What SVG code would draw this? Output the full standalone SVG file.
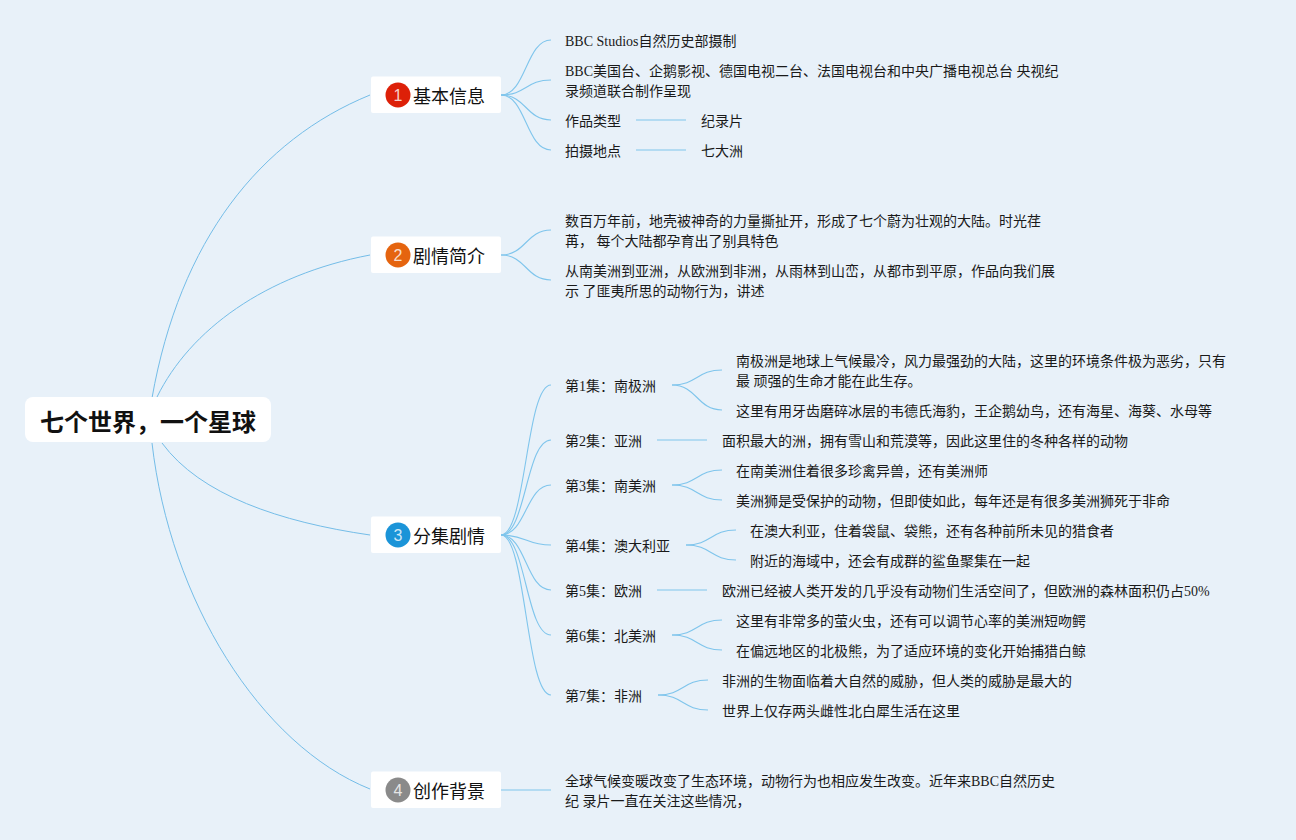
<svg xmlns="http://www.w3.org/2000/svg" width="1296" height="840" viewBox="0 0 1296 840">
<style>
text{font-family:"Liberation Serif","Noto Sans CJK SC",serif;font-size:14px;fill:#1a1a1a}
.c path{fill:none;stroke:#7fc5ec;stroke-width:1.1}
.c .m{stroke:#74bde8;stroke-width:1}
.n{fill:#fff}
.t{font-family:"Liberation Sans","Noto Sans CJK SC",sans-serif;font-size:18px;fill:#111}
.b{font-family:"Liberation Sans","Noto Sans CJK SC",sans-serif;font-size:16px;fill:#fff;fill-opacity:.8;text-anchor:middle}
.r{font-family:"Liberation Sans","Noto Sans CJK SC",sans-serif;font-size:24px;font-weight:bold;fill:#111}
</style>
<rect width="1296" height="840" fill="#e8f1f9"/>
<g id="connectors" class="c">
<path class="m" d="M152 398C180 240 260 140 370 95"/>
<path class="m" d="M157 397C190 330 265 275 370 255"/>
<path class="m" d="M162 443C200 495 280 522 370 535"/>
<path class="m" d="M152 443C170 600 260 745 370 789"/>
<path d="M501 95C526 95 526 40 551 40"/>
<path d="M501 95C526 95 526 80 551 80"/>
<path d="M501 95C526 95 526 120 551 120"/>
<path d="M501 95C526 95 526 150 551 150"/>
<path d="M636 120H686M636 150H686"/>
<path d="M501 255C526 255 526 230 551 230"/>
<path d="M501 255C526 255 526 280 551 280"/>
<path d="M501 535C526 535 526 385 551 385"/>
<path d="M501 535C526 535 526 440 551 440"/>
<path d="M501 535C526 535 526 485 551 485"/>
<path d="M501 535C526 535 526 545 551 545"/>
<path d="M501 535C526 535 526 590 551 590"/>
<path d="M501 535C526 535 526 635 551 635"/>
<path d="M501 535C526 535 526 695 551 695"/>
<path d="M501 790H551"/>
<path d="M672 385C697 385 697 370 722 370"/>
<path d="M672 385C697 385 697 410 722 410"/>
<path d="M657 440H707"/>
<path d="M672 485C697 485 697 470 722 470"/>
<path d="M672 485C697 485 697 500 722 500"/>
<path d="M686 545C711 545 711 530 736 530"/>
<path d="M686 545C711 545 711 560 736 560"/>
<path d="M657 590H707"/>
<path d="M672 635C697 635 697 620 722 620"/>
<path d="M672 635C697 635 697 650 722 650"/>
<path d="M658 695C683 695 683 680 708 680"/>
<path d="M658 695C683 695 683 710 708 710"/>
</g>
<g id="root"><rect class="n" x="25" y="397" width="246" height="45" rx="8"/><text class="r" x="40" y="431">七个世界，一个星球</text></g>
<g id="n1"><rect class="n" x="371" y="76.500" width="130" height="36.500" rx="2"/><circle cx="398" cy="95" r="12.500" fill="#dd2008"/><text class="b" x="398" y="101">1</text><text class="t" x="413" y="103">基本信息</text></g>
<g id="n2"><rect class="n" x="371" y="236.500" width="130" height="36.500" rx="2"/><circle cx="398" cy="255" r="12.500" fill="#e5640f"/><text class="b" x="398" y="261">2</text><text class="t" x="413" y="263">剧情简介</text></g>
<g id="n3"><rect class="n" x="371" y="516.500" width="130" height="36.500" rx="2"/><circle cx="398" cy="535" r="12.500" fill="#1b94d8"/><text class="b" x="398" y="541">3</text><text class="t" x="413" y="543">分集剧情</text></g>
<g id="n4"><rect class="n" x="371" y="771.500" width="130" height="36.500" rx="2"/><circle cx="398" cy="790" r="12.500" fill="#8a8a8a"/><text class="b" x="398" y="796">4</text><text class="t" x="413" y="798">创作背景</text></g>
<g id="leaves">
<text x="565" y="46">BBC Studios自然历史部摄制</text>
<text x="565" y="76">BBC美国台、企鹅影视、德国电视二台、法国电视台和中央广播电视总台 央视纪</text>
<text x="565" y="96">录频道联合制作呈现</text>
<text x="565" y="126">作品类型</text><text x="701" y="126">纪录片</text>
<text x="565" y="156">拍摄地点</text><text x="701" y="156">七大洲</text>
<text x="565" y="226">数百万年前，地壳被神奇的力量撕扯开，形成了七个蔚为壮观的大陆。时光荏</text>
<text x="565" y="246">苒， 每个大陆都孕育出了别具特色</text>
<text x="565" y="276">从南美洲到亚洲，从欧洲到非洲，从雨林到山峦，从都市到平原，作品向我们展</text>
<text x="565" y="296">示 了匪夷所思的动物行为，讲述</text>
<text x="565" y="391">第1集：南极洲</text>
<text x="736" y="366">南极洲是地球上气候最冷，风力最强劲的大陆，这里的环境条件极为恶劣，只有</text>
<text x="736" y="386">最 顽强的生命才能在此生存。</text>
<text x="736" y="416">这里有用牙齿磨碎冰层的韦德氏海豹，王企鹅幼鸟，还有海星、海葵、水母等</text>
<text x="565" y="446">第2集：亚洲</text>
<text x="722" y="446">面积最大的洲，拥有雪山和荒漠等，因此这里住的冬种各样的动物</text>
<text x="565" y="491">第3集：南美洲</text>
<text x="736" y="476">在南美洲住着很多珍禽异兽，还有美洲师</text>
<text x="736" y="506">美洲狮是受保护的动物，但即使如此，每年还是有很多美洲狮死于非命</text>
<text x="565" y="551">第4集：澳大利亚</text>
<text x="750" y="536">在澳大利亚，住着袋鼠、袋熊，还有各种前所未见的猎食者</text>
<text x="750" y="566">附近的海域中，还会有成群的鲨鱼聚集在一起</text>
<text x="565" y="596">第5集：欧洲</text>
<text x="722" y="596">欧洲已经被人类开发的几乎没有动物们生活空间了，但欧洲的森林面积仍占50%</text>
<text x="565" y="641">第6集：北美洲</text>
<text x="736" y="626">这里有非常多的萤火虫，还有可以调节心率的美洲短吻鳄</text>
<text x="736" y="656">在偏远地区的北极熊，为了适应环境的变化开始捕猎白鲸</text>
<text x="565" y="701">第7集：非洲</text>
<text x="722" y="686">非洲的生物面临着大自然的威胁，但人类的威胁是最大的</text>
<text x="722" y="716">世界上仅存两头雌性北白犀生活在这里</text>
<text x="565" y="786">全球气候变暖改变了生态环境，动物行为也相应发生改变。近年来BBC自然历史</text>
<text x="565" y="806">纪 录片一直在关注这些情况，</text>
</g>
</svg>
